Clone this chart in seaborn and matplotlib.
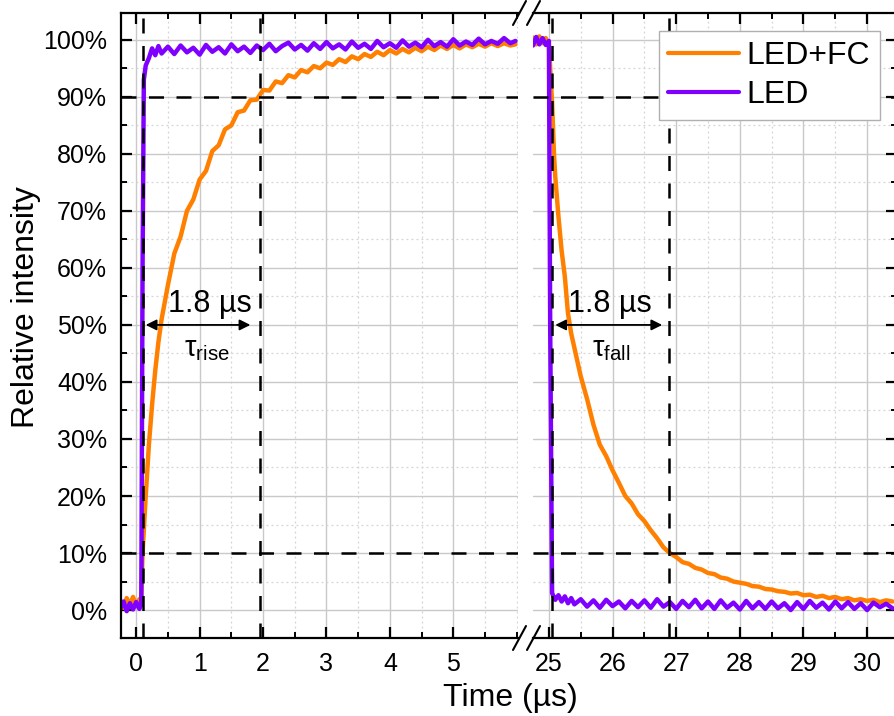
import numpy as np
import pandas as pd
import matplotlib
matplotlib.use("Agg")
import matplotlib.pyplot as plt
import seaborn as sns
from matplotlib.ticker import MultipleLocator, PercentFormatter
from matplotlib.lines import Line2D

# ---------------- data ----------------
series_names = ["LED+FC", "LED"]
series_colors = ["#FF8000", "#8000FF"]

t_left = [-0.25, -0.2, -0.15, -0.1, -0.05, 0.0, 0.05, 0.08, 0.1, 0.12, 0.15, 0.2, 0.25, 0.3, 0.35, 0.4,
          0.5, 0.6, 0.7, 0.8, 0.9, 1.0, 1.1, 1.2, 1.3, 1.4, 1.5, 1.6, 1.7, 1.8, 1.9,
          2.0, 2.1, 2.2, 2.3, 2.4, 2.5, 2.6, 2.7, 2.8, 2.9,
          3.0, 3.1, 3.2, 3.3, 3.4, 3.5, 3.6, 3.7, 3.8, 3.9,
          4.0, 4.1, 4.2, 4.3, 4.4, 4.5, 4.6, 4.7, 4.8, 4.9,
          5.0, 5.1, 5.2, 5.3, 5.4, 5.5, 5.6, 5.7, 5.8, 5.9, 5.98]

fc_left = [1.6, 0.4, 2.1, 0.9, 2.3, 0.7, 1.9, 2.2, 10, 14, 20, 29, 36, 42, 47, 51,
           57, 62.5, 65.5, 70, 72, 75.5, 77, 80.5, 81.5, 84.3, 85, 87.3, 87.6, 89.4, 89.5,
           91.2, 91.1, 92.7, 92.4, 93.8, 93.4, 94.7, 94.3, 95.4, 95.0,
           96.0, 95.6, 96.6, 96.1, 97.1, 96.6, 97.5, 97.0, 97.9, 97.3,
           98.2, 97.6, 98.4, 97.8, 98.6, 98.0, 98.8, 98.2, 99.0, 98.4,
           99.1, 98.5, 99.2, 98.7, 99.3, 98.8, 99.4, 98.9, 99.4, 99.0, 99.2]

led_left = [0.3, 1.5, -0.2, 1.2, 0.1, 1.4, 0.2, 1.0, 60, 93, 95.5, 96.8, 98.5, 97.3, 98.9, 97.6,
            98.8, 97.5, 99.0, 97.8, 98.6, 97.4, 99.1, 97.9, 98.7, 97.6, 99.2, 98.0, 98.8, 97.7, 99.0,
            98.2, 99.3, 98.0, 98.9, 99.5, 98.3, 99.1, 98.1, 99.4, 98.4,
            99.6, 98.5, 99.2, 98.3, 99.7, 98.6, 99.3, 98.4, 99.8, 98.7,
            99.4, 98.6, 99.9, 98.8, 99.5, 98.7, 100.0, 98.9, 99.6, 98.8,
            100.1, 99.0, 99.7, 99.1, 100.2, 99.2, 99.8, 99.3, 100.3, 99.4, 99.8]

t_right = [24.7, 24.75, 24.8, 24.85, 24.9, 24.95, 25.0, 25.02, 25.05, 25.08, 25.1, 25.15, 25.2, 25.25,
           25.3, 25.35, 25.4,
           25.5, 25.6, 25.7, 25.8, 25.9, 26.0, 26.1, 26.2, 26.3, 26.4,
           26.5, 26.6, 26.7, 26.8, 26.9, 27.0, 27.1, 27.2, 27.3, 27.4,
           27.5, 27.6, 27.7, 27.8, 27.9, 28.0, 28.1, 28.2, 28.3, 28.4,
           28.5, 28.6, 28.7, 28.8, 28.9, 29.0, 29.1, 29.2, 29.3, 29.4,
           29.5, 29.6, 29.7, 29.8, 29.9, 30.0, 30.1, 30.2, 30.3, 30.4]

fc_right = [99.0, 100.4, 99.2, 100.6, 99.4, 100.3, 99.0, 95, 89, 80, 76, 69, 63, 58.5, 52, 48.5, 46,
            41, 37, 32.5, 29, 27, 24.5, 22.3, 20, 18.7, 16.8,
            15.6, 14.0, 12.6, 11.0, 10.0, 9.3, 8.4, 8.1, 7.4, 7.1,
            6.5, 6.3, 5.7, 5.5, 5.0, 4.8, 4.6, 4.2, 4.1, 3.7,
            3.6, 3.3, 3.2, 2.9, 3.0, 2.6, 2.7, 2.3, 2.5, 2.1,
            2.3, 1.9, 2.1, 1.7, 1.9, 1.6, 1.8, 1.4, 1.7, 1.5]

led_right = [100.2, 99.0, 100.5, 99.2, 100.3, 99.1, 99.8, 50, 3.0, 2.2, 1.8, 2.6, 1.5, 2.4, 1.2, 2.1, 1.0,
             1.9, 0.6, 1.7, 0.4, 1.8, 0.7, 1.5, 0.3, 1.6, 0.5,
             1.7, 0.4, 1.9, 0.6, 1.4, 0.2, 1.6, 0.5, 1.8, 0.3,
             1.5, 0.2, 1.7, 0.4, 1.3, 0.1, 1.6, 0.3, 1.4, 0.2,
             1.5, 0.3, 1.2, 0.0, 1.4, 0.2, 1.6, 0.4, 1.3, 0.1,
             1.5, 0.3, 1.4, 0.2, 1.2, 0.0, 1.3, 0.5, 1.1, 0.3]

y_ticks = [0, 10, 20, 30, 40, 50, 60, 70, 80, 90, 100]
x_ticks_left = [0, 1, 2, 3, 4, 5]
x_ticks_right = [25, 26, 27, 28, 29, 30]

rise_marks = [0.1, 1.95]
fall_marks = [25.05, 26.88]
level_marks = [10, 90]

# ---------------- style ----------------
sns.set_style("ticks")
plt.rcParams["font.family"] = ["Liberation Sans", "DejaVu Sans"]
plt.rcParams["mathtext.fontset"] = "custom"
plt.rcParams["mathtext.rm"] = "Liberation Sans"
for k in ("text.color", "axes.labelcolor", "xtick.color", "ytick.color", "axes.edgecolor"):
    plt.rcParams[k] = "black"

df_left = pd.DataFrame({
    "Time": t_left + t_left,
    "Intensity": fc_left + led_left,
    "Series": [series_names[0]] * len(t_left) + [series_names[1]] * len(t_left),
})
df_right = pd.DataFrame({
    "Time": t_right + t_right,
    "Intensity": fc_right + led_right,
    "Series": [series_names[0]] * len(t_right) + [series_names[1]] * len(t_right),
})
pal = dict(zip(series_names, series_colors))

W, H = 894, 716
fig = plt.figure(figsize=(W / 100, H / 100), dpi=100)
bot, top = 638, 13
axL = fig.add_axes([121 / W, (H - bot) / H, (518 - 121) / W, (bot - top) / H])
axR = fig.add_axes([533 / W, (H - bot) / H, (897 - 533) / W, (bot - top) / H])

lw = 3.2
sns.lineplot(data=df_left, x="Time", y="Intensity", hue="Series", hue_order=series_names,
             palette=pal, ax=axL, estimator=None, sort=False, linewidth=lw, legend=False)
sns.lineplot(data=df_right, x="Time", y="Intensity", hue="Series", hue_order=series_names,
             palette=pal, ax=axR, estimator=None, sort=False, linewidth=lw, legend=True)

ylim = (-4.9, 104.7)
axL.set_xlim(-0.24, 6.02)
axR.set_xlim(24.75, 30.47)
for ax in (axL, axR):
    ax.set_ylim(*ylim)
    ax.set_xlabel("")
    ax.set_ylabel("")
    ax.set_axisbelow(True)
    ax.yaxis.set_major_locator(MultipleLocator(10))
    ax.yaxis.set_minor_locator(MultipleLocator(5))
    ax.xaxis.set_major_locator(MultipleLocator(1))
    ax.xaxis.set_minor_locator(MultipleLocator(0.5))
    ax.grid(which="major", color="#c9c9c9", lw=1.0, ls="-")
    ax.grid(which="minor", color="#d4d4d4", lw=0.9, ls=(0, (1.5, 2.5)))
    for s in ax.spines.values():
        s.set_linewidth(1.6)
        s.set_color("black")
    ax.tick_params(which="major", direction="in", length=8, width=1.6, labelsize=18,
                   top=True, bottom=True, pad=10, color="black", labelcolor="black")
    ax.tick_params(which="minor", direction="in", length=4.5, width=1.4,
                   top=True, bottom=True, color="black")
    for y in level_marks:
        ax.axhline(y, color="black", lw=1.8, ls=(0, (6, 5)), zorder=3)

axL.set_xticks(x_ticks_left)
axR.set_xticks(x_ticks_right)
axL.set_yticks(y_ticks)
axR.set_yticks(y_ticks)
axL.yaxis.set_major_formatter(PercentFormatter(xmax=100, decimals=0))
axL.spines["right"].set_visible(False)
axL.tick_params(axis="y", which="both", left=True, right=False)
axR.spines["left"].set_visible(False)
axR.tick_params(axis="y", which="both", left=False, right=True, labelleft=False, labelright=False)

for x in rise_marks:
    axL.axvline(x, color="black", lw=1.8, ls=(0, (6, 5)), zorder=3)
for x in fall_marks:
    axR.axvline(x, color="black", lw=1.8, ls=(0, (6, 5)), zorder=3)

# arrows + annotations
ap = dict(arrowstyle="<|-|>", color="black", lw=1.3, mutation_scale=16, shrinkA=0, shrinkB=0)
axL.annotate("", xy=(0.15, 50), xytext=(1.8, 50), arrowprops=ap, zorder=5)
axR.annotate("", xy=(25.1, 50), xytext=(26.78, 50), arrowprops=ap, zorder=5)
axL.text(1.16, 53.6, "1.8 µs", ha="center", va="center", fontsize=22, zorder=6)
axR.text(25.96, 53.6, "1.8 µs", ha="center", va="center", fontsize=22, zorder=6)
axL.text(1.12, 45.8, "τ$_{\\mathregular{rise}}$", ha="center", va="center", fontsize=21, zorder=6)
axR.text(25.98, 45.8, "τ$_{\\mathregular{fall}}$", ha="center", va="center", fontsize=21, zorder=6)

# legend
h, l = axR.get_legend_handles_labels()
for hh in h:
    hh.set_linewidth(3)
leg = axR.legend(h, l, loc="upper right", bbox_to_anchor=(0.953, 0.971), borderaxespad=0,
                 fontsize=23, handlelength=2.2, handletextpad=0.25, labelspacing=0.3,
                 borderpad=0.3, fancybox=False, frameon=True, framealpha=1)
leg.get_frame().set_edgecolor("#b0b0b0")
leg.get_frame().set_linewidth(1.0)

# axis break marks
def slash(x0, y0, x1, y1):
    fig.add_artist(Line2D([x0 / W, x1 / W], [1 - y0 / H, 1 - y1 / H], color="black", lw=1.5,
                          transform=fig.transFigure))

for yc in (top, bot):
    slash(513, yc + 12, 526, yc - 12)
    slash(527, yc + 12, 540, yc - 12)

fig.text(510 / W, 1 - 698 / H, "Time (µs)", ha="center", va="center", fontsize=23)
fig.text(26 / W, 1 - 307 / H, "Relative intensity", ha="center", va="center", rotation=90, fontsize=23)

fig.savefig("out.png", dpi=100)
